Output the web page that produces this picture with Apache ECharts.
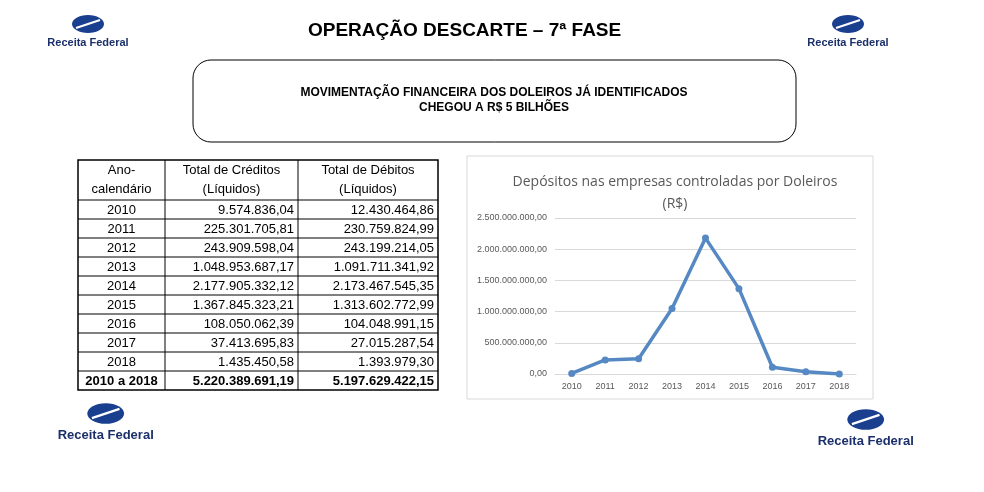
<!DOCTYPE html>
<html>
<head>
<meta charset="UTF-8">
<script src="https://cdn.jsdelivr.net/npm/echarts@6/dist/echarts.min.js"></script>
</head>
<body style="margin:0;background:#fff;">
<div id="main" style="width:984px;height:492px;"></div>
<script>
// dados da tabela / gráfico
var anos = ['2010','2011','2012','2013','2014','2015','2016','2017','2018'];
var creditos = [9574836.04, 225301705.81, 243909598.04, 1048953687.17, 2177905332.12, 1367845323.21, 108050062.39, 37413695.83, 1435450.58];
var debitos = [12430464.86, 230759824.99, 243199214.05, 1091711341.92, 2173467545.35, 1313602772.99, 104048991.15, 27015287.54, 1393979.30];
var totalCreditos = 5220389691.19;
var totalDebitos = 5197629422.15;

function br(v) {
  var p = v.toFixed(2).split('.');
  return p[0].replace(/\B(?=(\d{3})+(?!\d))/g, '.') + ',' + p[1];
}

var g = [];
var F = 'Liberation Sans';
g.push({type:'text', left:308, top:21, style:{text:'OPERAÇÃO DESCARTE – 7ª FASE', font:'bold 19px "Liberation Sans"', fill:'#000'}});
g.push({type:'rect', shape:{x:193, y:60, width:603, height:82, r:18}, style:{fill:'#fff', stroke:'#000', lineWidth:1}});
g.push({type:'text', x:494, y:100, style:{text:'MOVIMENTAÇÃO FINANCEIRA DOS DOLEIROS JÁ IDENTIFICADOS\nCHEGOU A R$ 5 BILHÕES', font:'bold 12px "Liberation Sans"', fill:'#000', align:'center', verticalAlign:'middle', lineHeight:15}});

// logos
function logo(x, y, s) {
  g.push({type:'ellipse', shape:{cx:x + 38*s, cy:y + 10*s, rx:16*s, ry:9*s}, style:{fill:'#1b3f8f'}});
  g.push({type:'line', shape:{x1:x + 26*s, y1:y + 14*s, x2:x + 50*s, y2:y + 6*s}, style:{stroke:'#fff', lineWidth:2*s}});
  g.push({type:'text', x:x + 38*s, y:y + 29*s, style:{text:'Receita Federal', font:'bold ' + Math.round(11*s) + 'px "Liberation Sans"', fill:'#1b2f6b', align:'center', verticalAlign:'middle'}});
}
logo(50, 14, 1);
logo(810, 14, 1);
logo(62, 402, 1.15);
logo(822, 408, 1.15);

// tabela
var cols = [78, 165, 298, 438];
var top0 = 160, hH = 40, rH = 19;
var nRows = anos.length + 1;
var bottom = top0 + hH + nRows * rH;
g.push({type:'rect', shape:{x:78, y:top0, width:360, height:bottom - top0}, style:{fill:'none', stroke:'#000', lineWidth:1.5}});
for (var c = 1; c < 3; c++) g.push({type:'line', shape:{x1:cols[c], y1:top0, x2:cols[c], y2:bottom}, style:{stroke:'#000', lineWidth:1}});
for (var r = 0; r < nRows; r++) {
  var yy = top0 + hH + r * rH;
  g.push({type:'line', shape:{x1:78, y1:yy, x2:438, y2:yy}, style:{stroke:'#000', lineWidth:1}});
}
var heads = ['Ano-\ncalendário', 'Total de Créditos\n(Líquidos)', 'Total de Débitos\n(Líquidos)'];
for (var c = 0; c < 3; c++) {
  g.push({type:'text', x:(cols[c] + cols[c+1]) / 2, y:top0 + hH/2, style:{text:heads[c], font:'13px "Liberation Sans"', fill:'#000', align:'center', verticalAlign:'middle', lineHeight:19}});
}
for (var i = 0; i < nRows; i++) {
  var tot = i === anos.length;
  var cy = top0 + hH + i * rH + rH/2 + 1;
  var fnt = (tot ? 'bold ' : '') + '13px "Liberation Sans"';
  g.push({type:'text', x:(cols[0] + cols[1]) / 2, y:cy, style:{text: tot ? '2010 a 2018' : anos[i], font:fnt, fill:'#000', align:'center', verticalAlign:'middle'}});
  g.push({type:'text', x:cols[2] - 4, y:cy, style:{text:br(tot ? totalCreditos : creditos[i]), font:fnt, fill:'#000', align:'right', verticalAlign:'middle'}});
  g.push({type:'text', x:cols[3] - 4, y:cy, style:{text:br(tot ? totalDebitos : debitos[i]), font:fnt, fill:'#000', align:'right', verticalAlign:'middle'}});
}
// moldura do gráfico
g.push({type:'rect', shape:{x:467, y:156, width:406, height:243}, style:{fill:'none', stroke:'#d9d9d9', lineWidth:1}});

var chart = echarts.init(document.getElementById('main'));
chart.setOption({
  animation: false,
  textStyle: {fontFamily: F},
  title: {text:'Depósitos nas empresas controladas por Doleiros\n(R$)', left:670, top:166, textAlign:'center',
    textStyle:{fontFamily:'Open Sans', fontSize:14, fontWeight:'normal', color:'#595959', lineHeight:22}},
  grid: {left:555, right:128, top:218, bottom:118},
  xAxis: {type:'category', data:anos, boundaryGap:true,
    axisLine:{lineStyle:{color:'#d9d9d9'}}, axisTick:{show:false},
    axisLabel:{color:'#595959', fontSize:9, margin:8}},
  yAxis: {type:'value', min:0, max:2500000000, interval:500000000,
    axisLine:{show:false}, axisTick:{show:false},
    splitLine:{lineStyle:{color:'#d9d9d9'}},
    axisLabel:{color:'#595959', fontSize:9, formatter:function(v){return br(v);}}},
  series: [{type:'line', data:creditos, symbol:'circle', symbolSize:7,
    lineStyle:{color:'#5689c4', width:3.5}, itemStyle:{color:'#5689c4'}}],
  graphic: g
});
</script>
</body>
</html>
